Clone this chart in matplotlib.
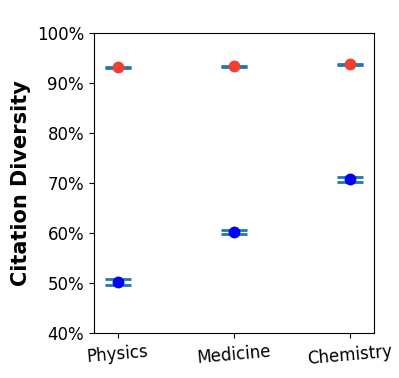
import numpy as np
import matplotlib.pyplot as plt
from matplotlib.ticker import PercentFormatter

fields = ['Physics', 'Medicine', 'Chemistry']
red_vals = [0.932, 0.934, 0.938]
red_err = [0.001, 0.001, 0.001]
blue_vals = [0.502, 0.603, 0.708]
blue_err = [0.006, 0.004, 0.005]

fig, ax = plt.subplots(figsize=(3.99, 3.78), dpi=100)
fig.subplots_adjust(left=0.235, right=0.937, top=0.912, bottom=0.119)

x = np.arange(len(fields))
ax.errorbar(x, red_vals, yerr=red_err, fmt='none', ecolor='tab:blue',
            capsize=9.5, capthick=2, elinewidth=0)
ax.errorbar(x, blue_vals, yerr=blue_err, fmt='none', ecolor='tab:blue',
            capsize=9.5, capthick=2, elinewidth=0)
ax.plot(x, red_vals, 'o', color='#f04030', markersize=7.5, zorder=3)
ax.plot(x, blue_vals, 'o', color='blue', markersize=7.5, zorder=3)

ax.set_xlim(-0.207, 2.207)
ax.set_ylim(0.4, 1.0)
ax.set_xticks(x)
ax.set_xticklabels(fields, rotation=5, fontsize=12)
ax.yaxis.set_major_formatter(PercentFormatter(1.0, decimals=0))
ax.tick_params(axis='y', labelsize=12)
ax.set_ylabel('Citation Diversity', fontsize=15, fontweight='bold')

plt.savefig('out.png')
